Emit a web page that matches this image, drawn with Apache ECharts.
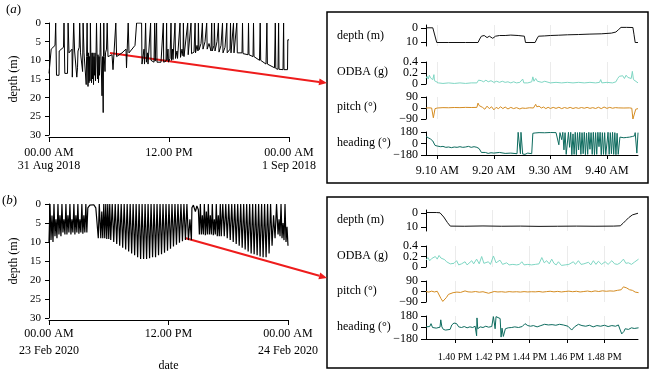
<!DOCTYPE html>
<html>
<head>
<meta charset="utf-8">
<script src="https://cdn.jsdelivr.net/npm/echarts@6/dist/echarts.min.js"></script>
<style>
  html, body { margin: 0; padding: 0; background: #fff; }
  #chart { width: 650px; height: 372px; }
</style>
</head>
<body>
<div id="chart"></div>
<script>
// whole-day dive profiles, [hour of day, depth m]
const diveA = [
  [0, 13.5], [0.2, 13.5], [0.22, 7], [0.6, 6], [0.67, 0], [0.72, 0], [0.75, 14], [1.0, 14], [1.02, 7.5], [1.45, 6.5],
  [1.5, 0], [1.55, 0], [1.58, 13.5], [1.85, 13.5], [1.91, 0], [1.95, 0], [2.0, 8], [2.3, 7], [2.33, 14.5], [2.42, 14.5],
  [2.47, 0], [2.52, 0], [2.56, 7.5], [2.75, 7], [2.78, 14.5], [2.85, 12], [2.9, 7.5], [3.02, 6.5], [3.07, 0], [3.12, 0],
  [3.15, 8], [3.3, 7.5], [3.36, 13], [3.41, 0], [3.45, 0], [3.5, 8], [3.7, 7.5], [3.72, 16.5], [3.76, 9], [3.81, 0],
  [3.85, 9], [3.9, 17], [3.95, 8], [4.0, 16], [4.05, 9], [4.1, 15.5], [4.14, 0], [4.18, 8], [4.25, 16], [4.3, 8],
  [4.35, 15], [4.4, 8], [4.45, 16.5], [4.5, 9], [4.55, 14], [4.6, 8], [4.65, 15.5], [4.7, 9], [4.75, 0], [4.8, 8],
  [4.85, 15], [4.9, 8.5], [4.95, 16], [5.0, 9], [5.05, 14], [5.1, 8], [5.15, 0], [5.2, 9], [5.3, 19.5], [5.35, 9],
  [5.42, 24], [5.45, 9], [5.48, 0], [5.52, 9], [5.6, 13], [5.65, 8], [5.75, 7], [5.82, 0], [5.86, 0], [5.9, 9],
  [6.1, 8.5], [6.3, 8.5], [6.4, 12.5], [6.6, 12], [6.68, 0], [6.72, 0], [6.76, 9], [7.3, 8], [7.7, 7], [7.75, 12],
  [7.88, 12], [7.92, 0], [7.96, 0], [8.0, 8], [8.6, 6], [8.76, 0], [9.26, 0], [9.3, 11], [9.45, 10.8], [9.5, 7],
  [9.55, 11], [9.62, 10.5], [9.66, 0], [9.7, 0], [9.74, 10.5], [9.85, 8], [9.9, 11], [10.1, 10.8], [10.16, 0], [10.2, 10],
  [10.5, 10.5], [10.57, 0], [10.62, 10.2], [10.76, 0], [10.8, 10.5], [11.0, 10.8], [11.2, 10.5], [11.35, 10.8], [11.43, 0], [11.47, 10.5],
  [11.7, 10.2], [11.76, 0], [11.8, 10], [11.9, 7], [11.95, 10.5], [12.1, 9.5], [12.2, 0], [12.25, 10], [12.35, 7], [12.4, 9.8],
  [12.55, 9.5], [12.6, 0], [12.65, 9.5], [12.8, 7.5], [12.85, 9.5], [13.05, 9], [13.1, 0], [13.15, 9.2], [13.3, 7], [13.4, 8.8],
  [13.44, 0], [13.5, 9], [13.7, 8.5], [13.87, 0], [13.92, 8.5], [14.1, 8], [14.2, 0], [14.25, 8.2], [14.5, 7.8], [14.61, 0],
  [14.65, 8], [14.8, 6], [14.9, 7.5], [14.94, 0], [15.0, 7.2], [15.2, 5.5], [15.34, 0], [15.4, 7], [15.6, 5], [15.77, 0],
  [15.82, 7], [16.0, 5.5], [16.2, 7.5], [16.27, 0], [16.32, 7.5], [16.5, 6], [16.54, 0], [16.6, 7.5], [16.8, 5], [16.94, 0],
  [17.0, 7.8], [17.2, 6], [17.35, 0], [17.4, 8], [17.6, 6.5], [17.78, 0], [17.82, 8], [18.1, 7], [18.15, 0], [18.2, 8],
  [18.4, 7.5], [18.45, 0], [18.5, 8], [18.7, 7.5], [18.78, 0], [18.83, 8], [19.3, 8], [19.35, 0], [19.4, 8.2], [19.9, 8.5],
  [19.95, 0], [20.0, 8.5], [20.4, 9], [20.45, 0], [20.5, 9], [21.05, 10], [21.12, 0], [21.17, 10], [21.7, 11], [21.79, 0],
  [21.84, 11], [22.55, 12], [22.63, 0], [22.68, 12.2], [22.9, 12.4], [22.96, 0], [23.0, 12.4], [23.4, 12.5], [23.46, 0], [23.5, 12.5],
  [23.85, 12.5], [23.88, 4.5], [24, 4.5]
];
const diveB = [
  [0, 10], [0.1, 0], [0.2, 9.5], [0.3, 3], [0.4, 10], [0.5, 0], [0.6, 8.5], [0.7, 4], [0.8, 9], [0.9, 0],
  [1.0, 8], [1.1, 3], [1.2, 8.5], [1.3, 0], [1.4, 7.5], [1.5, 4], [1.6, 8], [1.7, 0], [1.8, 8], [1.9, 3],
  [2.0, 7.5], [2.1, 0], [2.2, 8], [2.3, 4], [2.4, 7.5], [2.5, 0], [2.6, 8], [2.7, 3], [2.8, 7.5], [2.9, 0],
  [3.0, 7.8], [3.1, 4], [3.2, 7.5], [3.3, 0], [3.4, 7.8], [3.5, 3], [3.6, 7.5], [3.7, 0], [3.8, 7.5], [3.9, 1],
  [4.1, 0.3], [4.3, 0.5], [4.5, 0.2], [4.7, 1], [4.85, 0.5], [4.95, 9], [5.05, 0], [5.2, 9], [5.3, 2], [5.4, 9],
  [5.5, 0], [5.6, 9], [5.7, 0], [5.8, 9.2], [5.9, 0], [6.0, 9.2], [6.1, 0], [6.2, 9.5], [6.35, 0], [6.5, 10],
  [6.65, 0], [6.8, 10.5], [6.95, 0], [7.1, 11], [7.25, 0], [7.4, 11.5], [7.55, 0], [7.7, 12], [7.85, 0], [8.0, 12.5],
  [8.15, 0], [8.3, 13], [8.45, 0], [8.6, 13.5], [8.75, 0], [8.9, 14], [9.05, 0], [9.2, 14.5], [9.35, 0], [9.5, 14.5],
  [9.65, 0], [9.8, 14.5], [9.95, 0], [10.1, 14.3], [10.25, 0], [10.4, 14], [10.55, 0], [10.7, 14], [10.85, 0], [11.0, 13.5],
  [11.15, 0], [11.3, 13.2], [11.45, 0], [11.6, 12.8], [11.75, 0], [11.9, 12.3], [12.05, 0], [12.2, 11.8], [12.35, 0], [12.5, 11.2],
  [12.65, 0], [12.8, 10.7], [12.95, 0], [13.1, 10.2], [13.25, 0], [13.4, 9.8], [13.55, 0], [13.7, 9.5], [13.85, 0], [14.0, 9.5],
  [14.15, 4], [14.3, 9.5], [14.35, 1], [14.5, 0.3], [14.7, 2], [14.85, 0.5], [15.0, 1.5], [15.1, 8], [15.2, 0], [15.3, 8],
  [15.4, 3], [15.5, 8], [15.6, 0], [15.7, 8.2], [15.8, 2], [15.9, 8], [16.0, 0], [16.1, 8], [16.2, 3], [16.3, 8],
  [16.4, 0], [16.5, 8.2], [16.6, 4], [16.7, 8], [16.8, 0], [16.9, 8.5], [17.0, 3], [17.1, 8.5], [17.2, 0], [17.3, 8.5],
  [17.45, 0], [17.6, 8.5], [17.75, 0], [17.9, 9], [18.05, 0], [18.2, 9.5], [18.35, 0], [18.5, 10], [18.65, 0], [18.8, 10.5],
  [18.95, 0], [19.1, 11], [19.25, 0], [19.4, 11.5], [19.55, 0], [19.7, 12], [19.85, 0], [20.0, 12.5], [20.15, 0], [20.3, 13],
  [20.45, 0], [20.6, 13.2], [20.75, 0], [20.9, 13.5], [21.05, 0], [21.2, 13.8], [21.35, 0], [21.5, 14], [21.65, 0], [21.8, 14],
  [21.95, 0], [22.1, 13], [22.25, 0], [22.4, 11], [22.55, 3], [22.7, 9], [22.85, 0], [23.0, 8], [23.1, 4], [23.2, 8.5],
  [23.3, 0], [23.4, 9], [23.5, 5], [23.6, 9.5], [23.7, 0], [23.8, 10], [23.9, 6], [24, 11]
];
const dayTicksA = ['00.00 AM\n31 Aug 2018', '12.00 PM', '00.00 AM\n1 Sep 2018'];
const dayTicksB = ['00.00 AM\n23 Feb 2020', '12.00 PM', '00.00 AM\n24 Feb 2020'];

// zoomed windows, [minute past the hour, value]
const depthA = [
  [8.0, 0], [9.2, 0], [9.3, 1], [9.9, 10.5], [12, 10.5], [15, 10.5], [17.2, 10.5], [17.5, 8], [17.8, 6], [18.3, 5.5],
  [18.8, 7], [19.2, 6], [19.8, 7.5], [20.3, 6], [21, 5.5], [22, 5.5], [23, 5.2], [24.3, 5.5], [25.4, 6], [25.6, 10.5],
  [27.3, 10.5], [27.6, 8], [27.9, 6], [29, 5.8], [30, 5.5], [31.4, 5.3], [33, 5], [35, 4.8], [37, 4.5], [39, 4.3],
  [40.8, 3.8], [41.6, 3], [42, 1.5], [42.5, -0.3], [43.5, -0.3], [44.6, -0.2], [44.8, 5], [45, 10.5], [45.5, 10.5]
];
const odbaA = [
  [8.0, 0.1], [8.2, 0.14], [8.4, 0.09], [8.6, 0.16], [8.8, 0.11], [9.0, 0.13], [9.2, 0.08], [9.4, 0.17], [9.5, 0.06], [9.7, 0.03],
  [10.2, 0.02], [11, 0.01], [12, 0.02], [13, 0.01], [14, 0.02], [15, 0.01], [16, 0.02], [17, 0.02], [17.3, 0.07], [17.5, 0.04],
  [17.8, 0.06], [18.2, 0.04], [18.6, 0.07], [19, 0.04], [19.5, 0.06], [20, 0.03], [20.5, 0.05], [21, 0.03], [21.5, 0.05], [22, 0.03],
  [22.5, 0.04], [23, 0.02], [23.5, 0.04], [24, 0.02], [24.6, 0.03], [25.1, 0.09], [25.3, 0.02], [26, 0.02], [26.7, 0.04], [26.9, 0.13],
  [27.1, 0.05], [27.4, 0.1], [27.7, 0.05], [28, 0.07], [28.5, 0.03], [29, 0.05], [30, 0.02], [31, 0.03], [32, 0.02], [33, 0.03],
  [34, 0.02], [35, 0.03], [36, 0.02], [37, 0.03], [38, 0.02], [38.7, 0.03], [38.9, 0.08], [39.1, 0.02], [40, 0.03], [41, 0.02],
  [41.6, 0.04], [41.9, 0.1], [42.2, 0.14], [42.5, 0.11], [42.8, 0.15], [43.1, 0.1], [43.4, 0.16], [43.7, 0.12], [44.0, 0.14], [44.3, 0.1],
  [44.5, 0.23], [44.7, 0.08], [45, 0.05], [45.5, 0.02]
];
const pitchA = [
  [8, 0], [8.5, 1], [9.0, 0], [9.2, -10], [9.3, -80], [9.5, -75], [9.6, -5], [10, 0], [11, 3], [12, 2],
  [13, 4], [14, 3], [15, 5], [16, 4], [17, 5], [17.2, 40], [17.4, 20], [17.7, 25], [18, 5], [18.4, -10],
  [18.8, 15], [19.2, -5], [19.6, 10], [20, -15], [20.4, 5], [20.8, -5], [21.2, 10], [21.6, -5], [22, 8], [22.5, -8],
  [23, 5], [23.5, -5], [24, 3], [24.6, -8], [25, 0], [25.6, -3], [26.3, 2], [27, 0], [27.4, 30], [27.6, 10],
  [28, 15], [28.4, 0], [28.8, 8], [29.2, -5], [29.6, 6], [30, -4], [30.5, 5], [31, -3], [31.5, 6], [32, -5],
  [32.5, 4], [33, -3], [33.5, 5], [34, -4], [34.5, 3], [35, -3], [35.5, 4], [36, -2], [36.5, 5], [37, -3],
  [37.5, 3], [38, -4], [38.5, 6], [38.8, 15], [39, -5], [39.5, 8], [40, -3], [40.5, 5], [41, -2], [41.5, 3],
  [42, 1], [43, 0], [44, 1], [44.4, -2], [44.6, -90], [44.9, -85], [45.1, -10], [45.5, -5]
];
const headingA = [
  [8, 110], [8.4, 90], [8.8, 70], [9.2, 40], [9.4, 10], [9.6, -30], [9.8, 0], [10, -40], [10.3, -20], [10.6, -50],
  [11, -45], [11.5, -60], [12, -55], [12.5, -65], [13, -55], [13.5, -60], [14, -50], [14.5, -60], [15, -55], [15.5, -45],
  [16, -60], [16.5, -50], [17, -60], [17.4, -80], [17.8, -140], [18, -160], [18.5, -140], [19, -155], [19.5, -145], [20, -150],
  [21, -140], [22, -155], [23, -150], [24.1, -160], [24.3, 175], [24.5, 175], [24.7, -160], [24.8, 175], [25, 170], [25.1, -165],
  [25.5, -170], [26, -150], [26.3, -170], [26.7, -160], [26.9, 160], [27.3, 165], [28, 170], [29, 168], [30, 172], [31, 170],
  [31.3, 160], [31.5, -20], [31.7, 170], [32, 60], [32.2, 175], [32.4, -100], [32.6, 170], [32.8, -170], [33, -170], [33.2, 175],
  [33.4, -60], [33.6, 175], [33.8, -175], [34, 150], [34.2, -170], [34.4, 175], [34.6, -175], [34.8, 170], [35, -100], [35.2, 175],
  [35.4, -170], [35.6, 170], [35.8, -160], [36, 175], [36.2, -175], [36.4, 165], [36.6, -170], [36.8, 175], [37, -90], [37.2, 170],
  [37.4, -170], [37.6, 175], [37.8, -175], [38, 170], [38.2, -170], [38.4, 175], [38.6, -50], [38.8, 175], [39, -175], [39.2, 170],
  [39.4, -170], [39.6, 170], [39.8, -175], [40, -175], [40.2, 175], [40.4, -170], [40.6, 170], [40.8, -160], [41, 175], [41.2, -170],
  [41.4, 170], [41.6, -175], [41.8, 160], [42, -170], [42.3, 100], [42.6, 80], [43, 90], [43.5, 95], [44, 100], [44.5, 110],
  [44.9, 120], [45, 170], [45.2, 175], [45.3, -150], [45.5, 170]
];
const depthB = [
  [38.45, -0.2], [39.0, -0.2], [39.2, 0], [39.4, 3], [39.6, 7], [39.75, 9.5], [40.5, 9.6], [41.5, 9.4], [42.5, 9.6], [43.5, 9.5],
  [44.5, 9.7], [45.5, 9.6], [46.5, 9.5], [47.5, 9.6], [48.5, 9.5], [48.85, 9.3], [49.0, 7.5], [49.15, 5.5], [49.3, 3.5], [49.5, 1.5],
  [49.8, 0.3]
];
const odbaB = [
  [38.45, 0.13], [38.55, 0.18], [38.65, 0.12], [38.75, 0.16], [38.85, 0.13], [38.95, 0.2], [39.05, 0.15], [39.15, 0.22], [39.25, 0.17], [39.35, 0.2],
  [39.45, 0.14], [39.55, 0.1], [39.65, 0.12], [39.75, 0.06], [39.85, 0.05], [39.95, 0.07], [40.09, 0.12], [40.2, 0.04], [40.35, 0.06], [40.54, 0.1],
  [40.65, 0.04], [40.75, 0.05], [40.9, 0.12], [41.0, 0.06], [41.16, 0.15], [41.3, 0.06], [41.43, 0.2], [41.55, 0.07], [41.65, 0.05], [41.79, 0.1],
  [41.9, 0.05], [42.06, 0.21], [42.2, 0.08], [42.3, 0.06], [42.41, 0.13], [42.55, 0.05], [42.77, 0.08], [42.9, 0.04], [43.1, 0.05], [43.3, 0.04],
  [43.45, 0.05], [43.58, 0.1], [43.7, 0.04], [43.9, 0.05], [44.1, 0.04], [44.3, 0.05], [44.5, 0.06], [44.65, 0.18], [44.78, 0.08], [44.91, 0.12],
  [45.05, 0.06], [45.18, 0.15], [45.3, 0.07], [45.42, 0.04], [45.54, 0.1], [45.7, 0.03], [45.9, 0.04], [46.1, 0.05], [46.34, 0.1], [46.45, 0.05],
  [46.61, 0.12], [46.75, 0.05], [46.9, 0.06], [47.15, 0.09], [47.27, 0.04], [47.41, 0.12], [47.55, 0.05], [47.68, 0.11], [47.85, 0.05], [48.04, 0.1],
  [48.2, 0.05], [48.4, 0.12], [48.55, 0.06], [48.7, 0.05], [48.85, 0.08], [49.02, 0.15], [49.15, 0.07], [49.29, 0.08], [49.45, 0.05], [49.6, 0.09],
  [49.83, 0.15]
];
const pitchB = [
  [38.45, 0], [38.6, -5], [38.75, 3], [38.9, -4], [39.05, 2], [39.15, -10], [39.25, -60], [39.35, -85], [39.45, -80], [39.55, -50],
  [39.65, -25], [39.75, -15], [39.9, -10], [40.1, -5], [40.3, -8], [40.54, 5], [40.7, -3], [40.9, -5], [41.1, 0], [41.3, -6],
  [41.5, -2], [41.8, -15], [41.9, -2], [42.1, 0], [42.3, -4], [42.5, -2], [42.7, -6], [42.9, -1], [43.1, -4], [43.3, -2],
  [43.5, -5], [43.7, -1], [43.9, -4], [44.1, -2], [44.3, -3], [44.5, 0], [44.7, -5], [44.9, -1], [45.1, 2], [45.3, -3],
  [45.5, 1], [45.7, -4], [45.9, 0], [46.1, 3], [46.3, -2], [46.5, 2], [46.7, -4], [46.9, 0], [47.1, 4], [47.3, -2],
  [47.5, 5], [47.7, 0], [47.9, 6], [48.1, 2], [48.3, 5], [48.5, 3], [48.7, 10], [48.9, 15], [49.02, 40], [49.1, 25],
  [49.2, 30], [49.35, 15], [49.5, 10], [49.65, -5], [49.75, -20], [49.83, -10]
];
const headingB = [
  [38.45, 10], [38.55, -5], [38.65, 15], [38.72, 60], [38.8, 0], [38.9, 10], [39.0, -10], [39.1, 20], [39.2, 5], [39.24, 120],
  [39.3, 10], [39.38, -30], [39.5, -40], [39.6, -20], [39.74, -30], [39.83, 40], [39.95, 70], [40.09, 60], [40.2, 10], [40.35, 0],
  [40.5, 15], [40.65, -5], [40.8, 10], [40.95, 0], [41.08, 20], [41.16, -130], [41.18, 150], [41.22, -20], [41.35, 10], [41.5, 0],
  [41.65, 20], [41.8, 5], [41.97, 15], [42.06, 170], [42.1, 160], [42.15, -20], [42.2, 170], [42.3, 165], [42.33, 170], [42.42, 140],
  [42.47, -150], [42.52, -10], [42.59, -140], [42.7, -20], [42.85, -5], [43.04, 0], [43.2, 10], [43.4, 0], [43.6, 15], [43.75, 60],
  [43.9, 30], [44.05, 20], [44.2, 30], [44.4, 10], [44.6, 30], [44.8, 50], [45.0, 40], [45.2, 45], [45.4, 35], [45.6, 50],
  [45.8, 40], [45.9, 45], [46.05, 20], [46.25, -40], [46.4, 10], [46.61, 50], [46.8, 30], [47.0, 20], [47.2, 35], [47.4, 10],
  [47.6, 30], [47.8, 20], [48.0, 35], [48.2, 15], [48.4, 30], [48.6, 20], [48.75, 40], [48.85, -40], [48.93, -100], [49.05, -60],
  [49.11, -20], [49.29, -30], [49.45, -5], [49.6, -15], [49.83, -5]
];
const minuteTicksA = [10, 20, 30, 40];
const minuteTicksB = [40, 42, 44, 46, 48];

const SERIF = 'Liberation Serif';
const BLACK = '#000';
const colors = { depth: '#111', odba: '#7fd6c3', pitch: '#d48c22', heading: '#0d6b5e' };
const minus = v => String(v).replace('-', '\u2212');

const chart = echarts.init(document.getElementById('chart'), null, { renderer: 'canvas' });

const grids = [];
const xAxes = [];
const yAxes = [];
const series = [];

// left: whole day panels
function dayPanel(top, height, width, data, ticks, lh, margin, withName, lineWidth) {
  const i = grids.length;
  const yi = yAxes.length;
  grids.push({ left: 49, top: top, width: width, height: height, outerBoundsMode: 'none' });
  xAxes.push({
    gridIndex: i, type: 'value', min: 0, max: 24, interval: 12, offset: 2,
    axisLine: { onZero: false, lineStyle: { color: BLACK, width: 1 } },
    axisTick: { show: true, length: 5, lineStyle: { color: BLACK } },
    splitLine: { show: false },
    axisLabel: { color: BLACK, fontFamily: SERIF, fontSize: 12, lineHeight: lh, margin: margin,
      showMinLabel: true, showMaxLabel: true, formatter: v => ticks[Math.round(v / 12)] },
    name: withName ? 'date' : '', nameLocation: 'middle', nameGap: 40,
    nameTextStyle: { color: BLACK, fontFamily: SERIF, fontSize: 12 }
  });
  yAxes.push({
    gridIndex: i, type: 'value', inverse: true, min: 0, max: 30, interval: 5,
    axisLine: { show: true, onZero: false, lineStyle: { color: BLACK, width: 1 } },
    axisTick: { show: true, length: 4, lineStyle: { color: BLACK } },
    splitLine: { show: false },
    axisLabel: { color: BLACK, fontFamily: SERIF, fontSize: 11, margin: 8 },
    name: 'depth (m)', nameLocation: 'middle', nameGap: 29,
    nameTextStyle: { color: BLACK, fontFamily: SERIF, fontSize: 12 }
  });
  series.push({ type: 'line', xAxisIndex: i, yAxisIndex: yi, data: data, showSymbol: false,
    lineStyle: { color: BLACK, width: lineWidth }, silent: true });
}

// right: zoomed sensor panels; a second, line-less y axis carries the middle label
// so that the three closely packed labels are all kept
function sensorPanel(top, height, range, ticks, tickFmt, y, data, color, bottom) {
  const i = grids.length;
  const yi = yAxes.length;
  grids.push({ left: 426, top: top, width: 212, height: height, outerBoundsMode: 'none' });
  xAxes.push({
    gridIndex: i, type: 'value', min: range[0], max: range[1],
    axisLine: { show: bottom, onZero: false, lineStyle: { color: BLACK, width: 1 } },
    axisTick: { show: bottom, length: 4, customValues: ticks, lineStyle: { color: BLACK } },
    splitLine: { show: true, lineStyle: { color: '#ebebeb', width: 1 } },
    axisLabel: { show: bottom, customValues: ticks, color: BLACK, fontFamily: SERIF,
      fontSize: y.xFont || 12, hideOverlap: false,
      margin: bottom ? y.xMargin : 8, formatter: tickFmt }
  });
  const labelStyle = { color: BLACK, fontFamily: SERIF, fontSize: 12, margin: 8, formatter: minus };
  yAxes.push({
    gridIndex: i, type: 'value', position: 'left', inverse: !!y.inverse, min: y.min, max: y.max,
    axisLine: { show: true, onZero: false, lineStyle: { color: BLACK, width: 1 } },
    axisTick: { show: true, length: 5, customValues: y.ticks, lineStyle: { color: BLACK } },
    splitLine: { show: false },
    axisLabel: Object.assign({ customValues: y.ends, showMinLabel: true, showMaxLabel: true }, labelStyle)
  });
  if (y.mid) {
    yAxes.push({
      gridIndex: i, type: 'value', position: 'left', offset: 0, inverse: !!y.inverse, min: y.min, max: y.max,
      axisLine: { show: false, onZero: false },
      axisTick: { show: false, customValues: y.mid },
      splitLine: { show: false },
      axisLabel: Object.assign({ customValues: y.mid }, labelStyle)
    });
  }
  series.push({ type: 'line', xAxisIndex: i, yAxisIndex: yi, data: data, showSymbol: false,
    lineStyle: { color: color, width: 1 }, silent: true });
}

dayPanel(23, 112, 240, diveA, dayTicksA, 13.4, 9, false, 1);
dayPanel(204, 114, 239, diveB, dayTicksB, 17, 5, true, 1.2);

const yDepth = { inverse: true, min: -2, max: 13, ticks: [0, 10], ends: [0, 10] };
const yOdba = { min: 0, max: 0.4, ticks: [0, 0.2, 0.4], ends: [0, 0.4], mid: [0.2] };
const yPitch = { min: -90, max: 90, ticks: [-90, 0, 90], ends: [-90, 90], mid: [0] };
const yHeading = { min: -180, max: 180, ticks: [-180, 0, 180], ends: [-180, 180], mid: [0] };

const rangeA = [8, 45.5];
const fmtA = v => '9.' + v + ' AM';
sensorPanel(25, 21, rangeA, minuteTicksA, fmtA, yDepth, depthA, colors.depth, false);
sensorPanel(62, 22, rangeA, minuteTicksA, fmtA, yOdba, odbaA, colors.odba, false);
sensorPanel(97, 22, rangeA, minuteTicksA, fmtA, yPitch, pitchA, colors.pitch, false);
sensorPanel(132, 23, rangeA, minuteTicksA, fmtA,
  Object.assign({ xMargin: 10 }, yHeading), headingA, colors.heading, true);

const rangeB = [38.45, 49.8];
const fmtB = v => '1.' + v + ' PM';
sensorPanel(210, 21, rangeB, minuteTicksB, fmtB, yDepth, depthB, colors.depth, false);
sensorPanel(246, 21, rangeB, minuteTicksB, fmtB, yOdba, odbaB, colors.odba, false);
sensorPanel(281, 21, rangeB, minuteTicksB, fmtB, yPitch, pitchB, colors.pitch, false);
sensorPanel(316, 23, rangeB, minuteTicksB, fmtB,
  Object.assign({ xMargin: 13, xFont: 10 }, yHeading), headingB, colors.heading, true);

function label(text, x, y) {
  return { type: 'text', left: x, top: y - 7,
    style: { text: text, font: '12px "Liberation Serif"', fill: BLACK } };
}
function arrow(x1, y1, x2, y2) {
  const dx = x2 - x1, dy = y2 - y1, len = Math.hypot(dx, dy);
  const ux = dx / len, uy = dy / len, hl = 8, hw = 3.5;
  const bx = x2 - ux * hl, by = y2 - uy * hl;
  return [
    { type: 'line', shape: { x1: x1, y1: y1, x2: bx, y2: by }, style: { stroke: '#ee1c1c', lineWidth: 2 } },
    { type: 'polygon', shape: { points: [[x2, y2], [bx - uy * hw, by + ux * hw], [bx + uy * hw, by - ux * hw]] },
      style: { fill: '#ee1c1c' } }
  ];
}
const panelLetter = (letter, x, y) => ({
  type: 'text', left: x, top: y,
  style: { text: '({i|' + letter + '})', font: '13px "Liberation Serif"', fill: BLACK,
    rich: { i: { fontStyle: 'italic', fontFamily: SERIF, fontSize: 13 } } }
});

const graphic = [
  { type: 'rect', shape: { x: 327, y: 12, width: 321, height: 171 },
    style: { fill: 'none', stroke: BLACK, lineWidth: 1.5 } },
  { type: 'rect', shape: { x: 327, y: 197, width: 321, height: 171 },
    style: { fill: 'none', stroke: BLACK, lineWidth: 1.5 } },
  panelLetter('a', 6, 3),
  panelLetter('b', 2, 194),
  label('depth (m)', 337, 37), label('ODBA (g)', 337, 73), label('pitch (\u00b0)', 337, 108), label('heading (\u00b0)', 337, 144),
  label('depth (m)', 337, 221), label('ODBA (g)', 337, 257), label('pitch (\u00b0)', 337, 292), label('heading (\u00b0)', 337, 328)
].concat(arrow(110, 53, 327, 83), arrow(185, 238, 327, 278));

chart.setOption({
  animation: false,
  backgroundColor: '#fff',
  textStyle: { fontFamily: SERIF, color: BLACK },
  grid: grids,
  xAxis: xAxes,
  yAxis: yAxes,
  series: series,
  graphic: { elements: graphic }
});
</script>
</body>
</html>
